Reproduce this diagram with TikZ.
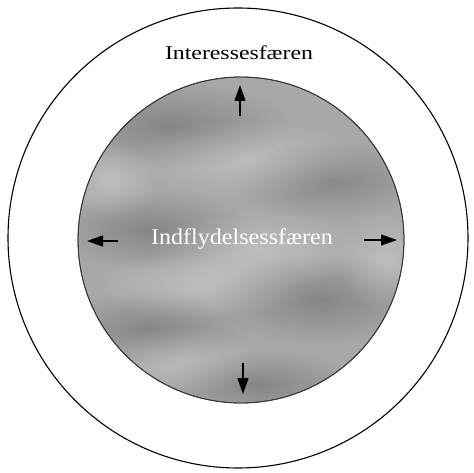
\documentclass[tikz,border=0pt]{standalone}
\usepackage{fontspec}
\setmainfont{Liberation Serif}
\usetikzlibrary{arrows.meta,fadings}
\tikzfading[name=softblob, inner color=transparent!0, outer color=transparent!100]
\begin{document}
\begin{tikzpicture}[x=1pt,y=-1pt,
  ring/.style={circle,draw=black,line width=1.1pt,inner sep=0pt},
  sphere/.style={circle,draw=black!80,line width=0.8pt,fill=black!34,inner sep=0pt},
  push/.style={line width=1.2pt,-{Triangle[length=16pt,width=11pt]}},
  dark/.style={fill=black,opacity=0.2,path fading=softblob},
  light/.style={fill=white,opacity=0.25,path fading=softblob},
  lbl/.style={inner sep=0pt}]
\useasboundingbox (0,0) rectangle (474,473);
\fill[white] (0,0) rectangle (474,473);
\node[ring,minimum size=460pt] (outer) at (238,238) {};
\node[sphere,minimum size=326pt] (inner) at (241,240) {};
\begin{scope}
\clip (241,240) circle (162.6pt);
\fill[dark] (170,125) ellipse (120pt and 45pt);
\fill[dark] (330,180) ellipse (100pt and 40pt);
\fill[dark] (150,230) ellipse (100pt and 40pt);
\fill[dark] (320,300) ellipse (110pt and 45pt);
\fill[dark] (150,330) ellipse (100pt and 40pt);
\fill[dark] (260,385) ellipse (100pt and 35pt);
\fill[light] (250,160) ellipse (120pt and 40pt);
\fill[light] (260,250) ellipse (110pt and 40pt);
\fill[light] (200,285) ellipse (110pt and 35pt);
\fill[light] (385,260) ellipse (50pt and 50pt);
\fill[light] (180,360) ellipse (80pt and 35pt);
\fill[light] (110,180) ellipse (50pt and 40pt);
\end{scope}
\draw[black!80,line width=0.8pt] (241,240) circle (163pt);
\node[lbl,font=\fontsize{19.5}{22}\selectfont,xscale=1.22] (interest) at (239,53) {Interessesfæren};
\node[lbl,font=\fontsize{22.5}{26}\selectfont,xscale=1.07,text=white] (influence) at (242,239) {Indflydelsessfæren};
\coordinate (uT) at (240,116); \coordinate (uH) at (240,85);
\coordinate (lT) at (118,241); \coordinate (lH) at (87,241);
\coordinate (rT) at (364,240); \coordinate (rH) at (397,240);
\coordinate (dT) at (243,363); \coordinate (dH) at (243,394);
\draw[push] (uT) -- (uH);
\draw[push] (lT) -- (lH);
\draw[push] (rT) -- (rH);
\draw[push] (dT) -- (dH);
\end{tikzpicture}
\end{document}
